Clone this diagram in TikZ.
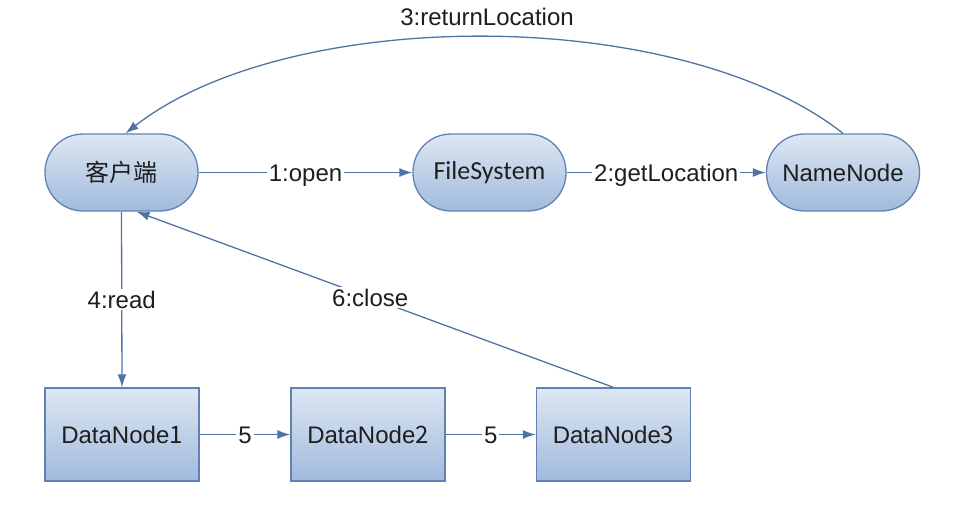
\documentclass[tikz,border=0pt]{standalone}
\usepackage{fontspec}
\setmainfont{Liberation Sans}
\newfontfamily\cjk{Noto Sans CJK SC}
\newfontfamily\calib{Carlito}
\usetikzlibrary{arrows.meta,calc}
\definecolor{edgec}{RGB}{79,116,164}
\definecolor{borderc}{RGB}{96,130,178}
\definecolor{topc}{RGB}{222,231,243}
\definecolor{botc}{RGB}{160,186,220}
\definecolor{txt}{RGB}{30,30,30}
\begin{document}
\begin{tikzpicture}[x=1pt,y=-1pt,
  every node/.style={text=txt,font=\fontsize{24}{28}\selectfont},
  pill/.style={draw=borderc,line width=1.3pt,top color=topc,bottom color=botc,
    rounded corners=38pt,minimum width=153pt,minimum height=77pt,inner sep=0pt},
  box/.style={draw=borderc,line width=1.3pt,top color=topc,bottom color=botc,
    minimum width=154pt,minimum height=93pt,inner sep=0pt},
  conn/.style={draw=edgec,line width=1.3pt,-{Latex[length=13pt,width=9pt]}},
  lbl/.style={fill=white,inner sep=2pt,text height=17pt,text depth=0pt}]
\useasboundingbox (0,0) rectangle (971,512);
\node[pill] (client) at (121.5,172.5) {\cjk 客户端};
\node[pill] (fs) at (489.5,172.5) {\calib\fontsize{26}{30}\selectfont FileSystem};
\node[pill] (nn) at (843,172.5) {NameNode};
\node[box] (d1) at (122,434.5) {DataNode{\cjk 1}};
\node[box] (d2) at (368,434.5) {DataNode{\cjk 2}};
\node[box] (d3) at (613.5,434.5) {DataNode{\cjk 3}};
\coordinate (cTop) at ($(client.north)+(4,0)$);
\coordinate (cBot) at ($(client.south)+(15,0)$);
\draw[conn] (client) -- node[lbl] {1:open} (fs);
\draw[conn] (fs) -- node[lbl] {2:getLocation} (nn);
\draw[conn] (nn.north) .. controls (680,5) and (290,5) .. (cTop);
\node (l3) at (487,17) {3:returnLocation};
\draw[conn] (client.south) -- node[lbl] {4:read} (d1.north);
\draw[conn] (d1) -- node[lbl] {5} (d2);
\draw[conn] (d2) -- node[lbl] {5} (d3);
\draw[conn] (d3.north) -- node[lbl,pos=0.51] {6:close} (cBot);
\end{tikzpicture}
\end{document}
